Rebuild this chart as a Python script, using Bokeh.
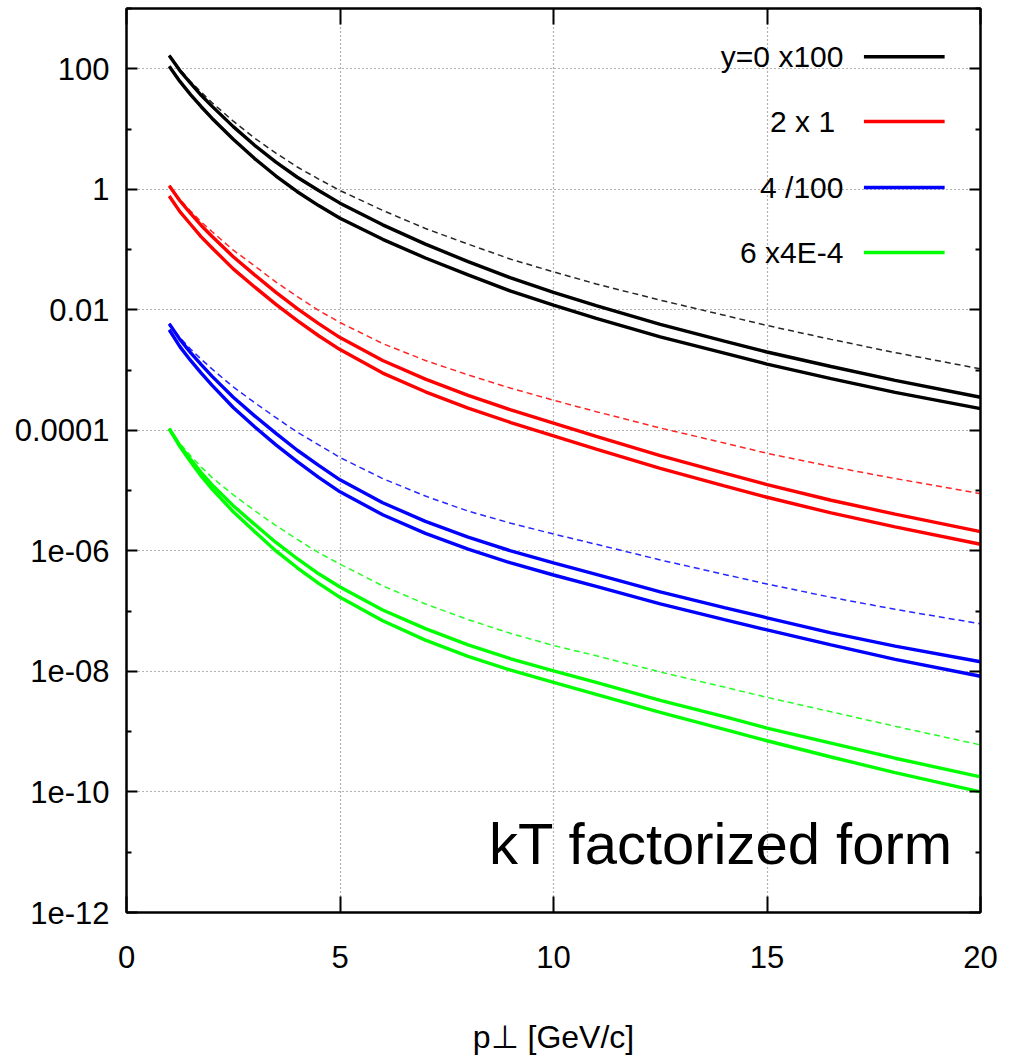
import numpy as np
from bokeh.plotting import figure
from bokeh.models import FixedTicker, CustomJSTickFormatter, LinearAxis, LogAxis, Label
from bokeh.core.properties import value
from bokeh.embed import file_html
from bokeh.resources import INLINE

# ---------------- data ----------------
pt = [1, 1.25, 1.5, 1.75, 2, 2.5, 3, 3.5, 4, 4.5, 5, 6, 7, 8, 9, 10, 11, 12.5, 14, 15, 16.5, 18, 20]

# log10 of the plotted (scaled) cross sections
y0_upper = [2.22, 1.97, 1.76, 1.56, 1.38, 1.04, 0.73, 0.45, 0.20, -0.02, -0.23, -0.59, -0.91,
            -1.20, -1.47, -1.71, -1.93, -2.24, -2.52, -2.70, -2.94, -3.17, -3.45]
y0_lower = [2.04, 1.79, 1.57, 1.37, 1.18, 0.83, 0.51, 0.22, -0.04, -0.27, -0.48, -0.83, -1.14,
            -1.42, -1.69, -1.92, -2.14, -2.45, -2.72, -2.90, -3.14, -3.37, -3.64]
y0_dashed = [2.22, 1.99, 1.79, 1.61, 1.44, 1.13, 0.85, 0.60, 0.37, 0.17, -0.02, -0.35, -0.65,
             -0.91, -1.16, -1.37, -1.57, -1.84, -2.09, -2.26, -2.49, -2.71, -2.98]

y2_upper = [0.06, -0.19, -0.40, -0.60, -0.78, -1.12, -1.42, -1.71, -1.98, -2.23, -2.46, -2.84, -3.15,
            -3.42, -3.66, -3.88, -4.10, -4.42, -4.71, -4.90, -5.16, -5.39, -5.68]
y2_lower = [-0.11, -0.37, -0.58, -0.79, -0.97, -1.32, -1.62, -1.91, -2.18, -2.43, -2.66, -3.05, -3.36,
            -3.63, -3.87, -4.09, -4.31, -4.63, -4.92, -5.11, -5.37, -5.60, -5.89]
y2_dashed = [0.06, -0.17, -0.36, -0.54, -0.70, -1.01, -1.27, -1.54, -1.78, -2.01, -2.21, -2.56, -2.84,
             -3.08, -3.30, -3.50, -3.69, -3.96, -4.21, -4.38, -4.60, -4.80, -5.05]

y4_upper = [-2.23, -2.49, -2.71, -2.91, -3.10, -3.45, -3.76, -4.05, -4.33, -4.58, -4.82, -5.20, -5.51,
            -5.77, -6.00, -6.20, -6.39, -6.68, -6.94, -7.11, -7.36, -7.58, -7.84]
y4_lower = [-2.33, -2.61, -2.84, -3.05, -3.25, -3.62, -3.94, -4.24, -4.52, -4.78, -5.02, -5.40, -5.71,
            -5.97, -6.20, -6.40, -6.59, -6.88, -7.14, -7.31, -7.56, -7.80, -8.08]
y4_dashed = [-2.23, -2.46, -2.65, -2.82, -2.98, -3.28, -3.54, -3.79, -4.03, -4.24, -4.45, -4.80, -5.09,
             -5.34, -5.54, -5.72, -5.89, -6.15, -6.39, -6.55, -6.77, -6.97, -7.21]

y6_upper = [-3.97, -4.25, -4.48, -4.70, -4.90, -5.25, -5.56, -5.86, -6.13, -6.38, -6.60, -6.98, -7.29,
            -7.56, -7.79, -7.99, -8.18, -8.48, -8.75, -8.94, -9.19, -9.44, -9.75]
y6_lower = [-3.97, -4.27, -4.52, -4.76, -4.97, -5.35, -5.68, -6.00, -6.28, -6.54, -6.77, -7.16, -7.48,
            -7.75, -7.98, -8.18, -8.38, -8.68, -8.96, -9.15, -9.42, -9.68, -10.00]
y6_dashed = [-3.97, -4.22, -4.42, -4.61, -4.78, -5.07, -5.33, -5.58, -5.81, -6.03, -6.22, -6.58, -6.88,
             -7.14, -7.37, -7.57, -7.74, -8.01, -8.26, -8.43, -8.67, -8.91, -9.22]

legend_labels = ["y=0 x100", "2 x  1", "4 /100", "6 x4E-4"]
colors = ["#000000", "#ff0000", "#0000ff", "#00ff00"]

x_ticks = [0, 5, 10, 15, 20]
y_ticks = [1e2, 1e0, 1e-2, 1e-4, 1e-6, 1e-8, 1e-10, 1e-12]
y_tick_labels = ["100", "1", "0.01", "0.0001", "1e-06", "1e-08", "1e-10", "1e-12"]
y_minor = [1e3, 1e1, 1e-1, 1e-3, 1e-5, 1e-7, 1e-9, 1e-11]

annotation_text = "kT factorized form"
x_label = "p\u22a5 [GeV/c]"

series = [
    (y0_upper, y0_lower, y0_dashed),
    (y2_upper, y2_lower, y2_dashed),
    (y4_upper, y4_lower, y4_dashed),
    (y6_upper, y6_lower, y6_dashed),
]

# ---------------- figure ----------------
FONT = "Liberation Sans"

p = figure(width=1010, height=1060, x_range=(0, 20), y_range=(1e-12, 1e3),
           y_axis_type="log", output_backend="svg", toolbar_location=None,
           min_border_left=126, min_border_right=30, min_border_top=8,
           min_border_bottom=148)
p.background_fill_color = "white"
p.border_fill_color = "white"
p.outline_line_color = "black"
p.outline_line_width = 2
p.outline_line_alpha = 1.0

# grid
for g in (p.xgrid, p.ygrid):
    g.grid_line_color = "#666666"
    g.grid_line_dash = "1 3"
    g.grid_line_width = 1.2
p.ygrid.minor_grid_line_color = None

fmt_y = CustomJSTickFormatter(args=dict(vals=y_ticks, labs=y_tick_labels), code="""
    const lt = Math.log10(tick);
    for (let i = 0; i < vals.length; i++) {
        if (Math.abs(Math.log10(vals[i]) - lt) < 1e-6) return labs[i];
    }
    return "";
""")
blank = CustomJSTickFormatter(code="return '';")

# bottom x axis
xa = p.xaxis[0]
xa.ticker = FixedTicker(ticks=x_ticks)
xa.major_tick_in = 16
xa.major_tick_out = 0
xa.minor_tick_in = 0
xa.minor_tick_out = 0
xa.axis_line_width = 2
xa.major_tick_line_width = 2
xa.major_label_text_font = FONT
xa.major_label_text_font_size = "31px"
xa.major_label_text_color = "black"
xa.major_label_standoff = 33
xa.axis_label = x_label
xa.axis_label_text_font = FONT
xa.axis_label_text_font_size = "32px"
xa.axis_label_text_font_style = "normal"
xa.axis_label_text_color = "black"
xa.axis_label_standoff = 48

# left y axis
ya = p.yaxis[0]
ya.ticker = FixedTicker(ticks=y_ticks, minor_ticks=y_minor)
ya.formatter = fmt_y
ya.major_tick_in = 11
ya.major_tick_out = 0
ya.minor_tick_in = 5
ya.minor_tick_out = 0
ya.axis_line_width = 2
ya.major_tick_line_width = 2
ya.minor_tick_line_width = 2
ya.major_label_text_font = FONT
ya.major_label_text_font_size = "31px"
ya.major_label_text_color = "black"
ya.major_label_standoff = 17

# mirrored axes (ticks only)
top = LinearAxis(ticker=FixedTicker(ticks=x_ticks), formatter=blank,
                 major_tick_in=16, major_tick_out=0, minor_tick_in=0, minor_tick_out=0,
                 major_label_text_font_size="0px", major_label_standoff=0,
                 axis_line_width=2, major_tick_line_width=2)
p.add_layout(top, "above")
right = LogAxis(ticker=FixedTicker(ticks=y_ticks, minor_ticks=y_minor), formatter=blank,
                major_tick_in=11, major_tick_out=0, minor_tick_in=5, minor_tick_out=0,
                major_label_text_font_size="0px", major_label_standoff=0,
                axis_line_width=2, major_tick_line_width=2, minor_tick_line_width=2)
p.add_layout(right, "right")

# curves
xs = np.array(pt, dtype=float)
for (up, lo, da), c in zip(series, colors):
    p.line(xs, 10.0 ** np.array(da), line_color=c, line_width=1.5, line_dash="6 4", line_alpha=0.85)
    p.line(xs, 10.0 ** np.array(up), line_color=c, line_width=3.4)
    p.line(xs, 10.0 ** np.array(lo), line_color=c, line_width=3.4)

# legend (text left of sample line, right aligned)
leg_text_x = 16.79
leg_line_x0, leg_line_x1 = 17.27, 19.16
leg_y = [10 ** 2.20, 10 ** 1.125, 10 ** 0.03, 10 ** -1.05]
p.text(x=[leg_text_x] * 4, y=leg_y, text=legend_labels,
       text_font=value(FONT), text_font_size="30px", text_align="right",
       text_baseline="middle", text_color="black")
p.segment(x0=[leg_line_x0] * 4, y0=leg_y, x1=[leg_line_x1] * 4, y1=leg_y,
          line_color=colors, line_width=3.5)

# annotation
p.add_layout(Label(x=19.36, y=10 ** -10.85, text=annotation_text,
                   text_font=FONT, text_font_size="58px",
                   text_align="right", text_baseline="middle", text_color="black"))

open("out.html", "w").write(file_html(p, INLINE))
